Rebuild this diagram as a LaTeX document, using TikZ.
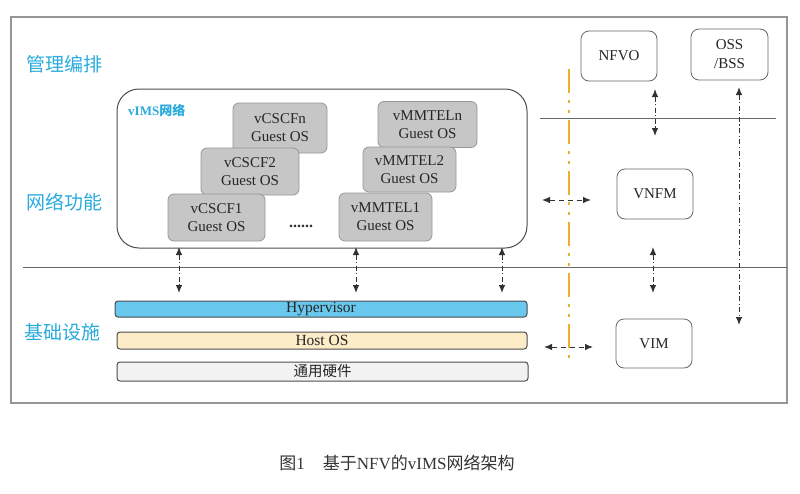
\documentclass[tikz,border=0pt]{standalone}
\usepackage{fontspec}
\setmainfont{Liberation Serif}
\newfontfamily\cjk{Noto Sans CJK SC}
\usetikzlibrary{arrows.meta}
\definecolor{frameg}{RGB}{150,150,150}
\definecolor{labcyan}{RGB}{40,170,220}
\definecolor{boxg}{RGB}{198,198,198}
\definecolor{boxedge}{RGB}{150,150,150}
\definecolor{hyper}{RGB}{105,200,238}
\definecolor{hostos}{RGB}{253,236,200}
\definecolor{hw}{RGB}{242,242,242}
\definecolor{arr}{RGB}{50,50,50}
\definecolor{orng}{RGB}{242,172,50}
\tikzset{
  x=1pt, y=-1pt,
  layerlab/.style={text=labcyan, font=\cjk\fontsize{19}{22}\selectfont, anchor=west, inner sep=0},
  vmbox/.style={draw=boxedge, fill=boxg, rounded corners=6pt, line width=0.8pt, align=center, font=\fontsize{15}{18}\selectfont, inner sep=0, text=black!85},
  wbox/.style={draw=black!60, fill=white, rounded corners=8pt, line width=0.8pt, align=center, font=\fontsize{15}{19}\selectfont, inner sep=0, text=black!85},
  barbox/.style={draw=black!70, rounded corners=3pt, line width=1pt, inner sep=0, font=\fontsize{15.5}{18}\selectfont, text=black!85},
  ddarr/.style={arr, line width=1pt, dash pattern=on 5pt off 2.5pt on 1.2pt off 2.5pt, {Latex[length=8pt,width=6.5pt]}-{Latex[length=8pt,width=6.5pt]}},
  dharr/.style={arr, line width=1pt, dash pattern=on 5pt off 4pt, {Latex[length=8pt,width=6.5pt]}-{Latex[length=8pt,width=6.5pt]}},
}
\begin{document}
\begin{tikzpicture}
\useasboundingbox (0,0) rectangle (800,493);
% outer frame
\draw[frameg, line width=1.2pt] (11,17) rectangle (787,403);
% separator lines
\draw[black!60, line width=0.8pt] (23,267) -- (787,267);
\draw[black!60, line width=0.8pt] (540,118) -- (776,118);
% layer labels
\node[layerlab] (l1) at (26,64) {管理编排};
\node[layerlab] (l2) at (26,202) {网络功能};
\node[layerlab] (l3) at (24,332) {基础设施};
% vIMS network box
\node (vimsbox) at (322,168.5) [draw=black!70, line width=1pt, rounded corners=22pt, minimum width=410pt, minimum height=159pt, inner sep=0] {};
\node[anchor=west, text=labcyan, font=\bfseries\cjk\fontsize{13}{15}\selectfont, inner sep=0] (vimslab) at (128,110) {\rmfamily\bfseries vIMS\cjk 网络};
% VNF boxes
\node[vmbox, minimum width=94pt, minimum height=50pt] (cscfn) at (280,128) {vCSCFn\\Guest OS};
\node[vmbox, minimum width=98pt, minimum height=47pt] (cscf2) at (250,171.5) {vCSCF2\\Guest OS};
\node[vmbox, minimum width=97pt, minimum height=47pt] (cscf1) at (216.5,217.5) {vCSCF1\\Guest OS};
\node[font=\bfseries\fontsize{16}{18}\selectfont, inner sep=0, text=black!80] (dots) at (301,226) {......};
\node[vmbox, minimum width=99pt, minimum height=46pt] (mmteln) at (427.5,124.5) {vMMTELn\\Guest OS};
\node[vmbox, minimum width=93pt, minimum height=45pt] (mmtel2) at (409.5,169.5) {vMMTEL2\\Guest OS};
\node[vmbox, minimum width=93pt, minimum height=48pt] (mmtel1) at (385.5,217) {vMMTEL1\\Guest OS};
% infrastructure bars
\node[barbox, fill=hyper, minimum width=412pt, minimum height=16pt] (hyp) at (321,309) {Hypervisor};
\node[barbox, fill=hostos, minimum width=410pt, minimum height=17pt] (host) at (322,340.5) {Host OS};
\node[barbox, fill=hw, minimum width=411pt, minimum height=19pt, font=\cjk\fontsize{14.5}{18}\selectfont] (hwbar) at (322.5,371.5) {通用硬件};
% orange dash-dot line
\draw[orng, line width=2.5pt, dash pattern=on 24pt off 7pt on 3pt off 7pt on 3pt off 7pt] (569,69) -- (569,362);
% MANO boxes
\node[wbox, minimum width=76pt, minimum height=50pt] (nfvo) at (619,56) {NFVO};
\node[wbox, minimum width=77pt, minimum height=51pt] (oss) at (729.5,54.5) {OSS\\/BSS};
\node[wbox, minimum width=76pt, minimum height=50pt] (vnfm) at (655,194) {VNFM};
\node[wbox, minimum width=76pt, minimum height=49pt] (vim) at (654,343.5) {VIM};
% connector coordinates
\coordinate (a1t) at (179,247); \coordinate (a1b) at (179,293);
\coordinate (a2t) at (356,247); \coordinate (a2b) at (356,293);
\coordinate (a3t) at (502,247); \coordinate (a3b) at (502,293);
\coordinate (nvt) at (655,89);  \coordinate (nvb) at (655,136);
\coordinate (vvt) at (653,247); \coordinate (vvb) at (653,293);
\coordinate (ost) at (739,87);  \coordinate (osb) at (739,325);
\coordinate (h1l) at (542,200); \coordinate (h1r) at (591,200);
\coordinate (h2l) at (544,347); \coordinate (h2r) at (593,347);
% connectors
\draw[ddarr] (a1t) -- (a1b);
\draw[ddarr] (a2t) -- (a2b);
\draw[ddarr] (a3t) -- (a3b);
\draw[ddarr] (nvt) -- (nvb);
\draw[ddarr] (vvt) -- (vvb);
\draw[ddarr] (ost) -- (osb);
\draw[dharr] (h1l) -- (h1r);
\draw[dharr] (h2l) -- (h2r);
% caption
\node[font=\cjk\fontsize{17}{20}\selectfont, text=black!80, inner sep=0] (cap) at (397,463) {图{\rmfamily 1}\hspace{18pt}基于{\rmfamily NFV}的{\rmfamily vIMS}网络架构};
\end{tikzpicture}
\end{document}
